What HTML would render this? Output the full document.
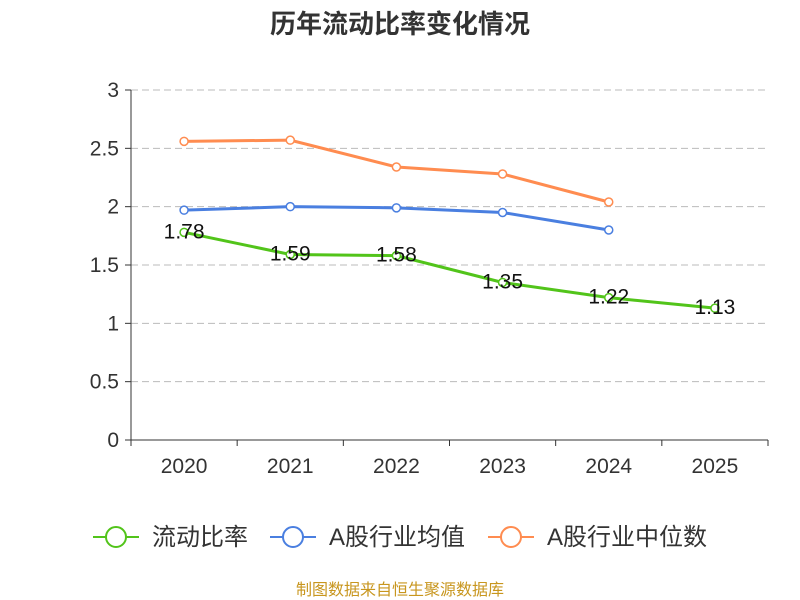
<!DOCTYPE html>
<html><head><meta charset="utf-8"><style>
body{margin:0;background:#fff;}
svg{display:block;font-family:"Liberation Sans","Noto Sans CJK SC",sans-serif;}
</style></head><body>
<svg id="chart" width="800" height="600">
<text x="400" y="33" text-anchor="middle" font-size="26" font-weight="bold" fill="#333">历年流动比率变化情况</text>
<g id="grid"></g><g id="axes"></g><g id="series"></g>
<g id="legend"></g>
<text x="400" y="595" text-anchor="middle" font-size="16" fill="#c8961e">制图数据来自恒生聚源数据库</text>
</svg>
<script>
const categories=["2020","2021","2022","2023","2024","2025"];
const currentRatio=[1.78,1.59,1.58,1.35,1.22,1.13];
const industryAvg=[1.97,2.00,1.99,1.95,1.80];
const industryMedian=[2.56,2.57,2.34,2.28,2.04];
const yTicks=[0,0.5,1,1.5,2,2.5,3];
const yTickLabels=["0","0.5","1","1.5","2","2.5","3"];
const seriesNames=["流动比率","A股行业均值","A股行业中位数"];
const NS="http://www.w3.org/2000/svg";
const x0=131,x1=768,y0=440,y1=90,yMax=3;
const bw=(x1-x0)/categories.length;
const X=i=>x0+bw*(i+0.5);
const Y=v=>y0-(v/yMax)*(y0-y1);
function mk(tag,attrs,parent,text){const e=document.createElementNS(NS,tag);for(const k in attrs)e.setAttribute(k,attrs[k]);if(text!==undefined)e.textContent=text;parent.appendChild(e);return e;}
const grid=document.getElementById('grid'),axes=document.getElementById('axes'),ser=document.getElementById('series'),leg=document.getElementById('legend');
yTicks.forEach((t,i)=>{
  if(t>0){const l=mk('line',{x1:x0,x2:x1,y1:Y(t),y2:Y(t),stroke:'#bbb','stroke-dasharray':'7,4'},grid);
  
  }
  mk('line',{x1:x0-6,x2:x0,y1:Y(t),y2:Y(t),stroke:'#333'},axes);
  const tx=mk('text',{x:x0-12,y:Y(t)+7,'text-anchor':'end','font-size':21,fill:'#333'},axes,yTickLabels[i]);
  
  
});
mk('line',{x1:x0,x2:x0,y1:y1,y2:y0,stroke:'#333'},axes);
mk('line',{x1:x0,x2:x1,y1:y0,y2:y0,stroke:'#333'},axes);
for(let i=0;i<=categories.length;i++)mk('line',{x1:x0+bw*i,x2:x0+bw*i,y1:y0,y2:y0+6,stroke:'#333'},axes);
categories.forEach((c,i)=>{const t=mk('text',{x:X(i),y:473,'text-anchor':'middle','font-size':21,fill:'#333'},axes,c);

});
function drawSeries(vals,color,name,labels){
  const g=mk('g',{},ser);
  
  
  mk('polyline',{points:vals.map((v,i)=>X(i)+','+Y(v)).join(' '),fill:'none',stroke:color,'stroke-width':3},g);
  vals.forEach((v,i)=>{const c=mk('circle',{cx:X(i),cy:Y(v),r:4,fill:'#fff',stroke:color,'stroke-width':1.5},g);
  
  
  if(labels){const t=mk('text',{x:X(i),y:Y(v)+6,'text-anchor':'middle','font-size':21,fill:'#111'},g,v.toFixed(2));
  
  }});
}
drawSeries(industryMedian,'#ff8c50','median-series',false);
drawSeries(industryAvg,'#4a7fe0','average-series',false);
drawSeries(currentRatio,'#52c41a','current-ratio-series',true);
const legColors=['#52c41a','#4a7fe0','#ff8c50'],legX=[93,270,488];
seriesNames.forEach((n,i)=>{const g=mk('g',{},leg);
  
  
  mk('line',{x1:legX[i],x2:legX[i]+46,y1:537,y2:537,stroke:legColors[i],'stroke-width':2},g);
  mk('circle',{cx:legX[i]+23,cy:537,r:10,fill:'#fff',stroke:legColors[i],'stroke-width':2},g);
  mk('text',{x:legX[i]+59,y:545,'font-size':24,fill:'#333'},g,n);});
</script>
</body></html>
